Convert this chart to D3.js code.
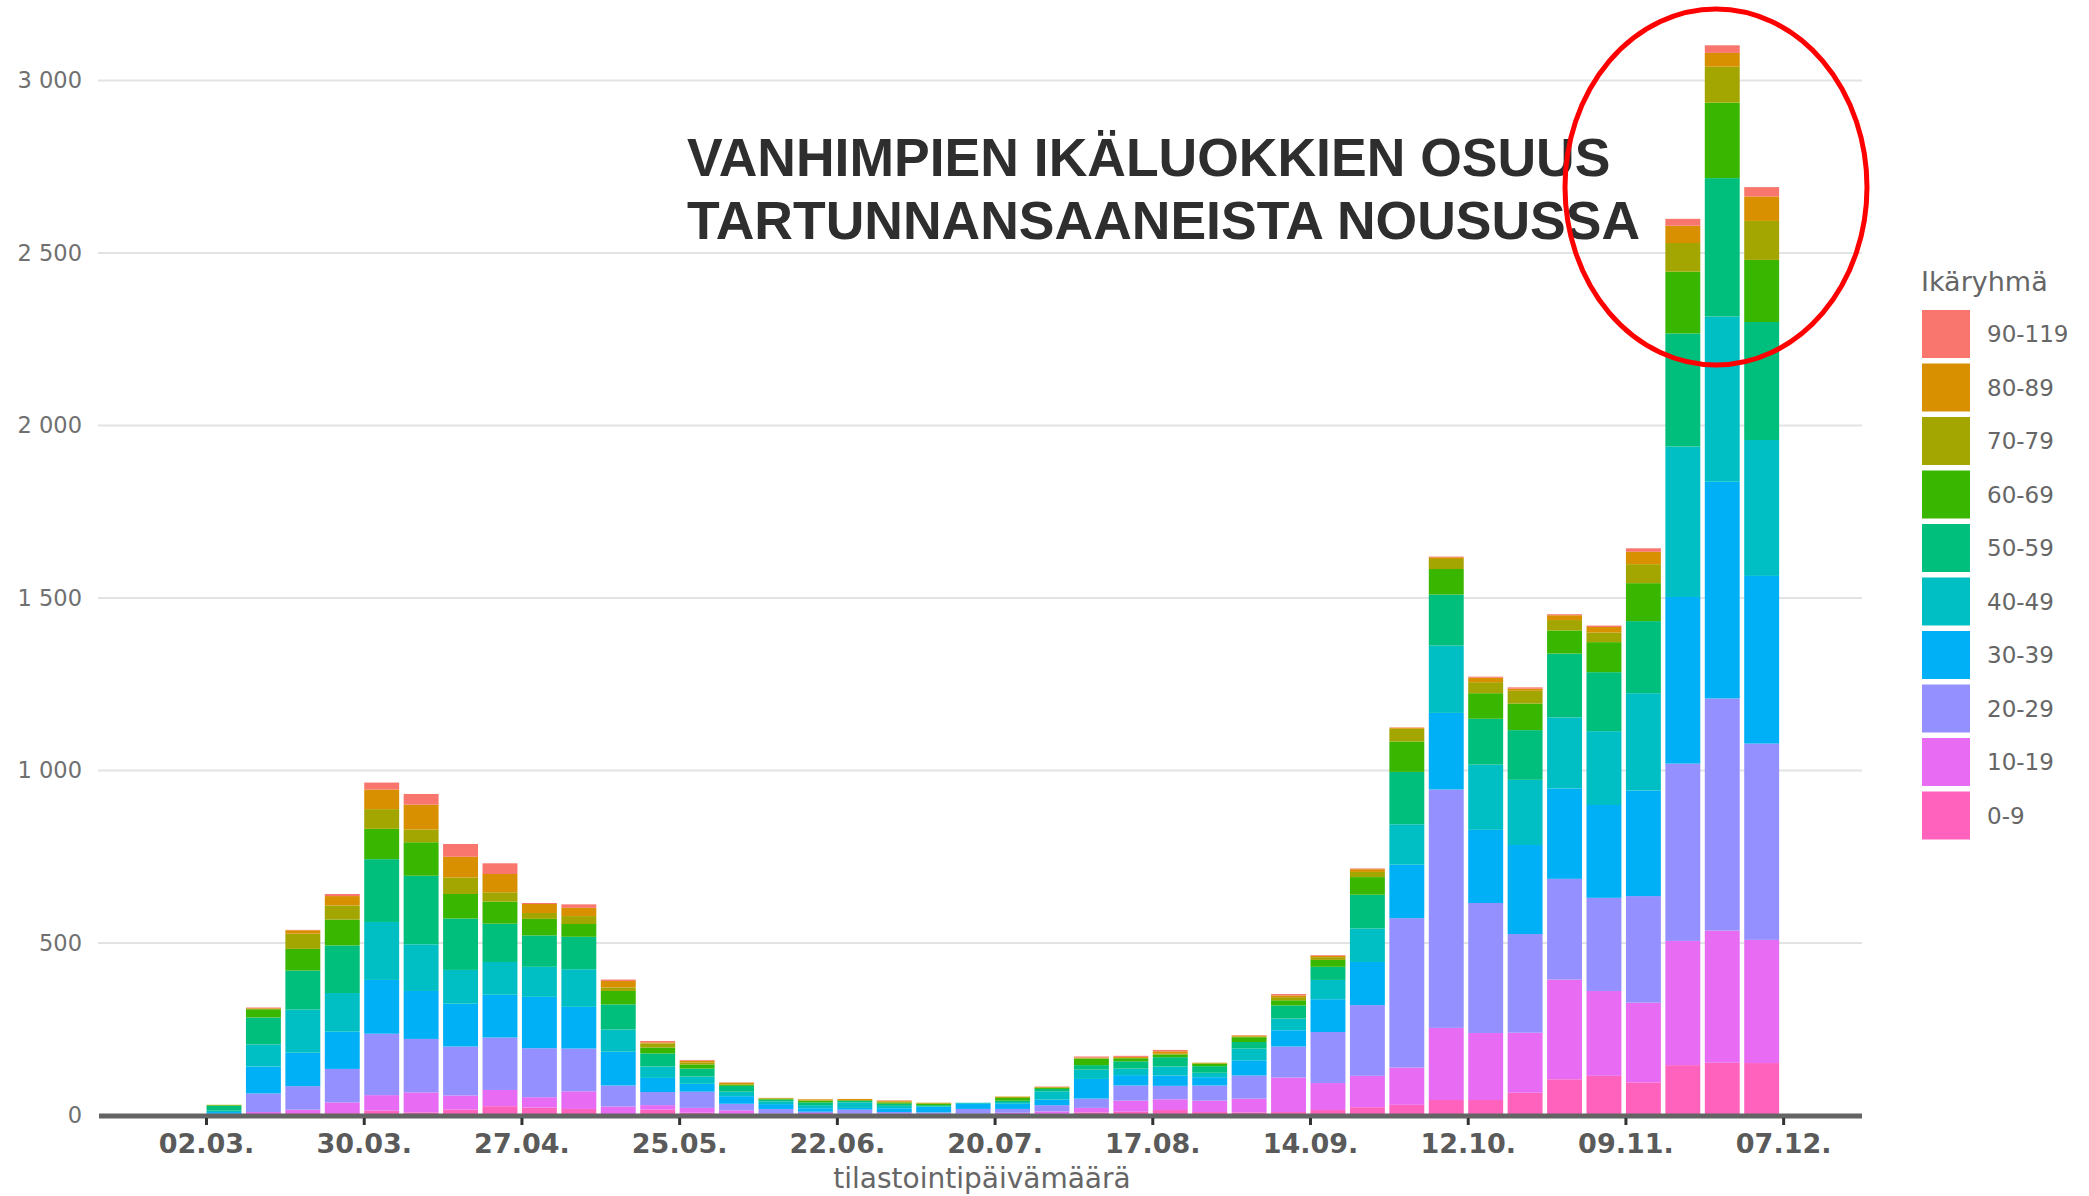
<!DOCTYPE html>
<html>
<head>
<meta charset="utf-8">
<script src="https://cdn.jsdelivr.net/npm/d3@7/dist/d3.min.js"></script>
<style>
  body { margin: 0; background: #fff; }
  svg { display: block; font-family: "DejaVu Sans", sans-serif; }
</style>
</head>
<body>
<svg id="chart" width="2089" height="1196"></svg>
<script>
// weekly statistics dates (week start)
const weeks = [
  "2020-03-02", "2020-03-09", "2020-03-16", "2020-03-23", "2020-03-30",
  "2020-04-06", "2020-04-13", "2020-04-20", "2020-04-27", "2020-05-04",
  "2020-05-11", "2020-05-18", "2020-05-25", "2020-06-01", "2020-06-08",
  "2020-06-15", "2020-06-22", "2020-06-29", "2020-07-06", "2020-07-13",
  "2020-07-20", "2020-07-27", "2020-08-03", "2020-08-10", "2020-08-17",
  "2020-08-24", "2020-08-31", "2020-09-07", "2020-09-14", "2020-09-21",
  "2020-09-28", "2020-10-05", "2020-10-12", "2020-10-19", "2020-10-26",
  "2020-11-02", "2020-11-09", "2020-11-16", "2020-11-23", "2020-11-30"
];

const ageGroups = ["0-9", "10-19", "20-29", "30-39", "40-49", "50-59", "60-69", "70-79", "80-89", "90-119"];
const groupColours = ["#FF62BC", "#E76BF3", "#9590FF", "#00B0F6", "#00BFC4", "#00BF7D", "#39B600", "#A3A500", "#D89000", "#F8766D"];

// cases per week, one array per age group
const age0to9 = [1, 4, 7, 7, 14, 9, 17, 27, 23, 19, 4, 17, 8, 5, 4, 4, 3, 4, 3, 3, 4, 5, 9, 11, 16, 10, 9, 10, 16, 24, 31, 45, 45, 66, 105, 115, 96, 146, 153, 152];
const age10to19 = [1, 6, 10, 31, 45, 58, 41, 47, 30, 51, 22, 13, 14, 10, 2, 3, 2, 2, 2, 2, 4, 7, 13, 32, 31, 33, 40, 100, 78, 91, 108, 209, 194, 174, 289, 246, 231, 360, 383, 357];
const age20to29 = [3, 54, 68, 97, 178, 155, 142, 152, 142, 124, 61, 38, 47, 19, 13, 4, 12, 4, 4, 14, 11, 18, 27, 44, 39, 44, 67, 90, 148, 205, 433, 691, 377, 286, 292, 270, 309, 514, 673, 569];
const age30to39 = [5, 78, 97, 108, 156, 139, 124, 124, 149, 121, 98, 41, 23, 22, 14, 10, 5, 11, 16, 15, 15, 16, 57, 30, 30, 24, 44, 47, 95, 125, 155, 222, 212, 258, 262, 269, 306, 483, 628, 486];
const age40to49 = [4, 64, 125, 112, 168, 135, 98, 95, 87, 109, 64, 33, 21, 13, 8, 9, 16, 7, 2, 3, 5, 24, 27, 19, 26, 13, 34, 34, 56, 97, 117, 195, 189, 189, 206, 214, 282, 436, 479, 394];
const age50to59 = [14, 78, 113, 138, 182, 199, 149, 111, 91, 94, 73, 38, 23, 17, 5, 8, 4, 6, 3, 0, 4, 7, 13, 21, 27, 19, 19, 38, 38, 98, 152, 148, 133, 144, 185, 171, 209, 328, 401, 342];
const age60to69 = [2, 24, 63, 75, 88, 97, 71, 64, 48, 37, 39, 17, 12, 3, 2, 5, 2, 4, 4, 0, 8, 4, 19, 9, 8, 7, 14, 15, 20, 51, 88, 74, 74, 77, 67, 87, 110, 179, 219, 180];
const age70to79 = [1, 1, 44, 41, 57, 37, 48, 27, 17, 23, 10, 12, 5, 2, 2, 1, 1, 2, 2, 0, 3, 0, 1, 1, 2, 2, 2, 9, 8, 15, 37, 29, 32, 37, 30, 28, 55, 83, 104, 113];
const age80to89 = [0, 2, 10, 27, 57, 72, 60, 53, 26, 24, 19, 3, 6, 4, 1, 3, 3, 3, 1, 0, 1, 2, 2, 3, 7, 1, 3, 5, 4, 8, 3, 5, 13, 6, 14, 16, 36, 50, 40, 71];
const age90to119 = [0, 2, 1, 6, 20, 31, 37, 31, 3, 10, 4, 4, 2, 1, 0, 0, 0, 1, 0, 0, 0, 1, 3, 3, 4, 0, 1, 4, 2, 2, 1, 2, 3, 4, 3, 4, 10, 20, 22, 27];

const xTickDates = ["2020-03-02", "2020-03-30", "2020-04-27", "2020-05-25", "2020-06-22", "2020-07-20", "2020-08-17", "2020-09-14", "2020-10-12", "2020-11-09", "2020-12-07"];
const yTicks = [0, 500, 1000, 1500, 2000, 2500, 3000];
const xDomain = ["2020-02-12", "2020-12-21"];

const titleLines = ["VANHIMPIEN IKÄLUOKKIEN OSUUS", "TARTUNNANSAANEISTA NOUSUSSA"];

// build table for the stack
const parseDate = d3.timeParse("%Y-%m-%d");
const seriesArrays = [age0to9, age10to19, age20to29, age30to39, age40to49, age50to59, age60to69, age70to79, age80to89, age90to119];
const rows = weeks.map((w, i) => {
  const row = { date: parseDate(w) };
  ageGroups.forEach((g, j) => (row[g] = seriesArrays[j][i]));
  return row;
});

const svg = d3.select("#chart");

const x = d3.scaleTime()
  .domain(xDomain.map(parseDate))
  .range([99, 1862]);

const y = d3.scaleLinear()
  .domain([0, 3000])
  .range([1115.5, 80.5]);

const colour = d3.scaleOrdinal().domain(ageGroups).range(groupColours);

// gridlines
svg.append("g")
  .selectAll("line")
  .data(yTicks.filter((d) => d > 0))
  .join("line")
  .attr("x1", 98)
  .attr("x2", 1862)
  .attr("y1", (d) => y(d))
  .attr("y2", (d) => y(d))
  .attr("stroke", "#e1e3e5")
  .attr("stroke-width", 2);

// stacked bars
const stacked = d3.stack().keys(ageGroups)(rows);

svg.append("g")
  .selectAll("g")
  .data(stacked)
  .join("g")
  .attr("fill", (d) => colour(d.key))
  .selectAll("rect")
  .data((d) => d)
  .join("rect")
  .attr("x", (d) => x(d.data.date) + 0.5)
  .attr("width", (d) => x(d3.timeDay.offset(d.data.date, 7)) - x(d.data.date) - 4.5)
  .attr("y", (d) => y(d[1]))
  .attr("height", (d) => y(d[0]) - y(d[1]));

// y axis (labels only)
const fiLocale = d3.formatLocale({ decimal: ",", thousands: "\u00a0", grouping: [3], currency: ["", "€"] });
const yAxis = svg.append("g")
  .attr("transform", "translate(98,0)")
  .call(d3.axisLeft(y).tickValues(yTicks).tickFormat(fiLocale.format(",d")).tickSize(0));
yAxis.select(".domain").remove();
yAxis.selectAll("text")
  .attr("x", -16)
  .attr("font-family", "DejaVu Sans")
  .attr("font-size", 22.5)
  .attr("fill", "#707070");

// x axis
const xAxis = svg.append("g")
  .attr("transform", "translate(0,1116)")
  .call(d3.axisBottom(x)
    .tickValues(xTickDates.map(parseDate))
    .tickFormat(d3.timeFormat("%d.%m."))
    .tickSizeOuter(0)
    .tickSize(9));
xAxis.select(".domain").remove();
xAxis.insert("line", ":first-child")
  .attr("x1", x.range()[0])
  .attr("x2", x.range()[1])
  .attr("stroke", "#646464")
  .attr("stroke-width", 5);
xAxis.selectAll(".tick line")
  .attr("stroke", "#333")
  .attr("stroke-width", 3)
  .attr("y1", 2);
xAxis.selectAll("text")
  .attr("y", 37)
  .attr("dy", null)
  .attr("font-family", "DejaVu Sans")
  .attr("font-weight", "bold")
  .attr("font-size", 27)
  .attr("fill", "#5a5a5a");

svg.append("text")
  .attr("x", 982)
  .attr("y", 1188)
  .attr("text-anchor", "middle")
  .attr("font-size", 28)
  .attr("fill", "#666")
  .text("tilastointipäivämäärä");

// legend
const legend = svg.append("g").attr("transform", "translate(1921,0)");
legend.append("text")
  .attr("x", 0)
  .attr("y", 291)
  .attr("font-size", 27)
  .attr("fill", "#666")
  .text("Ikäryhmä");

const legendItems = legend.selectAll(".item")
  .data(ageGroups.slice().reverse())
  .join("g")
  .attr("class", "item")
  .attr("transform", (d, i) => `translate(0,${310 + i * 53.5})`);
legendItems.append("rect")
  .attr("x", 1)
  .attr("width", 48)
  .attr("height", 48)
  .attr("fill", (d) => colour(d));
legendItems.append("text")
  .attr("x", 66)
  .attr("y", 24)
  .attr("dy", "0.36em")
  .attr("font-size", 23)
  .attr("fill", "#666")
  .text((d) => d);

// annotation
svg.append("text")
  .attr("font-family", "'Liberation Sans', Arial, sans-serif")
  .attr("font-weight", "bold")
  .attr("font-size", 53.5)
  .attr("fill", "#2e2e2e")
  .selectAll("tspan")
  .data(titleLines)
  .join("tspan")
  .attr("x", 687)
  .attr("y", (d, i) => 176 + i * 63)
  .text((d) => d);

svg.append("ellipse")
  .attr("cx", 1716)
  .attr("cy", 187)
  .attr("rx", 151)
  .attr("ry", 178)
  .attr("fill", "none")
  .attr("stroke", "#ff0000")
  .attr("stroke-width", 5);
</script>
</body>
</html>
